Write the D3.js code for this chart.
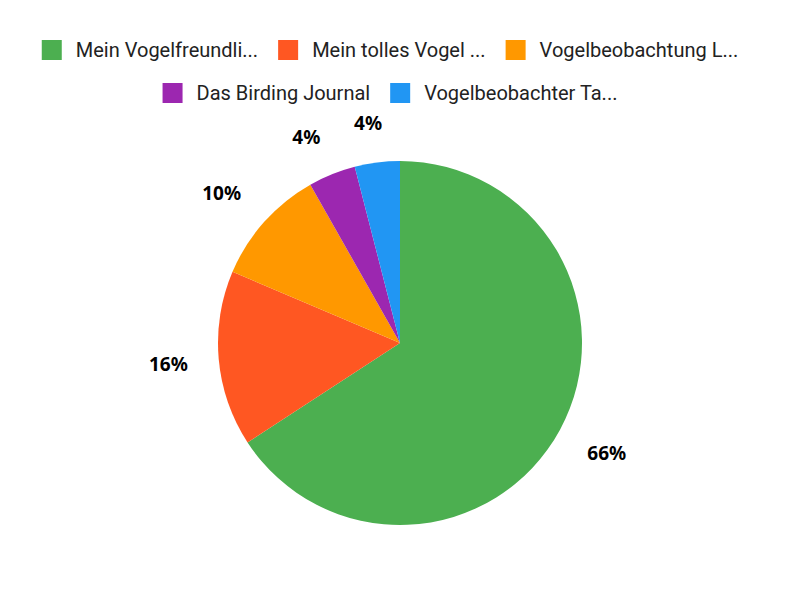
<!DOCTYPE html>
<html>
<head>
<meta charset="utf-8">
<script src="https://cdn.jsdelivr.net/npm/d3@7"></script>
<style>
  body { margin: 0; background: #fff; }
  svg { display: block; }
</style>
</head>
<body>
<script>
const w = 800;
const h = 600;

const categories = [
  "Mein Vogelfreundli...",
  "Mein tolles Vogel ...",
  "Vogelbeobachtung L...",
  "Das Birding Journal",
  "Vogelbeobachter Ta..."
];
const values = [65.8, 15.6, 10.4, 4.2, 4.0];
const colors = ["#4caf50", "#ff5722", "#ff9800", "#9c27b0", "#2196f3"];
const legendRows = [[0, 1, 2], [3, 4]];

const cx = 400;
const cy = 343;
const radius = 182;

const svg = d3.select("body").append("svg").attr("width", w).attr("height", h);

const data = categories.map((c, i) => ({ name: c, value: values[i], color: colors[i] }));
const total = d3.sum(values);

const pie = d3.pie().sort(null).value((d) => d.value);
const arc = d3.arc().innerRadius(0).outerRadius(radius);
const arcs = pie(data);

const g = svg.append("g").attr("transform", "translate(" + cx + "," + cy + ")");

g.selectAll("path")
  .data(arcs)
  .enter()
  .append("path")
  .attr("d", arc)
  .attr("fill", (d) => d.data.color);

// labels outside the pie: nearest corner of the text box sits on the label ring
const labelR = radius + 31;
g.selectAll("text.pct")
  .data(arcs)
  .enter()
  .append("text")
  .attr("class", "pct")
  .attr("font-family", "Noto Sans")
  .attr("font-weight", "bold")
  .attr("font-size", 19)
  .attr("text-anchor", "middle")
  .attr("dominant-baseline", "central")
  .text((d) => Math.round((d.data.value / total) * 100) + "%")
  .each(function (d) {
    const a = (d.startAngle + d.endAngle) / 2;
    const s = Math.sin(a);
    const c = Math.cos(a);
    const bw = this.getComputedTextLength() / 2;
    const bh = 8.5;
    const x = s * labelR + Math.sign(s) * bw * Math.min(1, Math.abs(s) * 3);
    const y = -c * labelR - Math.sign(c) * bh * Math.min(1, Math.abs(c) * 3);
    d3.select(this).attr("x", x).attr("y", y);
  });

// legend
const legend = svg.append("g").attr("font-family", "Roboto").attr("font-size", 20);
const legendCenter = 390;
legendRows.forEach((row, ri) => {
  const rowY = 50 + ri * 43;
  const rg = legend.append("g");
  let x = 0;
  row.forEach((idx, k) => {
    rg.append("rect")
      .attr("x", x)
      .attr("y", rowY - 10)
      .attr("width", 20)
      .attr("height", 20)
      .attr("fill", colors[idx]);
    const t = rg.append("text")
      .attr("x", x + 34)
      .attr("y", rowY)
      .attr("dominant-baseline", "central")
      .attr("fill", "#222")
      .text(categories[idx]);
    x += 34 + t.node().getComputedTextLength();
    if (k < row.length - 1) x += 20;
  });
  rg.attr("transform", "translate(" + (legendCenter - x / 2) + ",0)");
});
</script>
</body>
</html>
